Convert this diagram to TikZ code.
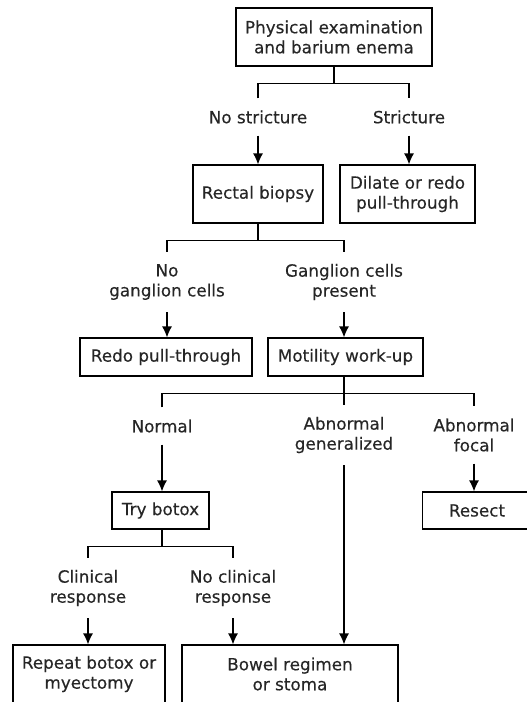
\documentclass[tikz,border=0pt]{standalone}
\usepackage{fontspec}
\setmainfont[FakeBold=0.3]{DejaVu Sans}
\usepackage{tikz}
\usetikzlibrary{positioning, arrows, arrows.meta}

\begin{document}
\begin{tikzpicture}[x=1pt,y=-1pt,
  txt/.style={font=\fontsize{16.8}{20}\selectfont,text=black!85},
  box/.style={txt,draw,line width=1.2pt,align=center,inner sep=0pt},
  lbl/.style={txt,align=center,inner xsep=2pt,inner ysep=12pt},
  link/.style={line width=1.2pt},
  arr/.style={line width=1.2pt,-{Latex[length=11pt,width=10pt]}}]
\useasboundingbox (0,0) rectangle (527,702);
\clip (0,0) rectangle (527,702);
% boxes
\node[box,minimum width=196pt,minimum height=58pt] (exam) at (334,37) {Physical examination\\and barium enema};
\node[box,minimum width=130pt,minimum height=58pt] (biopsy) at (258,194) {Rectal biopsy};
\node[box,minimum width=135pt,minimum height=58pt] (dilate) at (407.5,194) {Dilate or redo\\pull-through};
\node[box,minimum width=172pt,minimum height=38pt] (redo) at (166,357) {Redo pull-through};
\node[box,minimum width=155pt,minimum height=38pt] (motil) at (345.5,357) {Motility work-up};
\node[box,minimum width=97pt,minimum height=37pt] (botox) at (160.5,510.5) {Try botox};
\node[box,minimum width=109pt,minimum height=37pt] (resect) at (477,510.5) {Resect};
\node[box,minimum width=152pt,minimum height=58pt] (repeat) at (89,674) {Repeat botox or\\myectomy};
\node[box,minimum width=216pt,minimum height=58pt] (bowel) at (290,674) {Bowel regimen\\or stoma};
% branch labels
\node[lbl] (nostr) at (258,117) {No stricture};
\node[lbl] (str) at (409,117) {Stricture};
\node[lbl] (nogang) at (167,282) {No\\ganglion cells};
\node[lbl] (gang) at (344,282) {Ganglion cells\\present};
\node[lbl] (normal) at (162,426) {Normal};
\node[lbl] (gen) at (344,435) {Abnormal\\generalized};
\node[lbl] (focal) at (474,435) {Abnormal\\focal};
\node[lbl] (clin) at (88,588) {Clinical\\response};
\node[lbl] (noclin) at (233,588) {No clinical\\response};
% splits
\coordinate (j1) at ([yshift=-17pt]exam.south);
\draw[link] (exam.south) -- (j1);
\draw[link] (nostr.north) |- (j1) -| (str.north);
\coordinate (j2) at ([yshift=-17pt]biopsy.south);
\draw[link] (biopsy.south) -- (j2);
\draw[link] (nogang.north) |- (j2) -| (gang.north);
\coordinate (j3) at ([yshift=-17pt]gang.south |- motil.south);
\draw[link] (gang.south |- motil.south) -- (j3);
\draw[link] (normal.north) |- (j3) -| (focal.north);
\draw[link] (j3) -- (gen.north);
\coordinate (j4) at ([yshift=-17pt]normal.south |- botox.south);
\draw[link] (normal.south |- botox.south) -- (j4);
\draw[link] (clin.north) |- (j4) -| (noclin.north);
% arrows
\draw[arr] (nostr.south) -- (biopsy.north);
\draw[arr] (str.south) -- (str.south |- dilate.north);
\draw[arr] (nogang.south) -- (nogang.south |- redo.north);
\draw[arr] (gang.south) -- (gang.south |- motil.north);
\draw[arr] (normal.south) -- (normal.south |- botox.north);
\draw[arr] (gen.south) -- (gen.south |- bowel.north);
\draw[arr] (focal.south) -- (focal.south |- resect.north);
\draw[arr] (clin.south) -- (clin.south |- repeat.north);
\draw[arr] (noclin.south) -- (noclin.south |- bowel.north);
\end{tikzpicture}
\end{document}
